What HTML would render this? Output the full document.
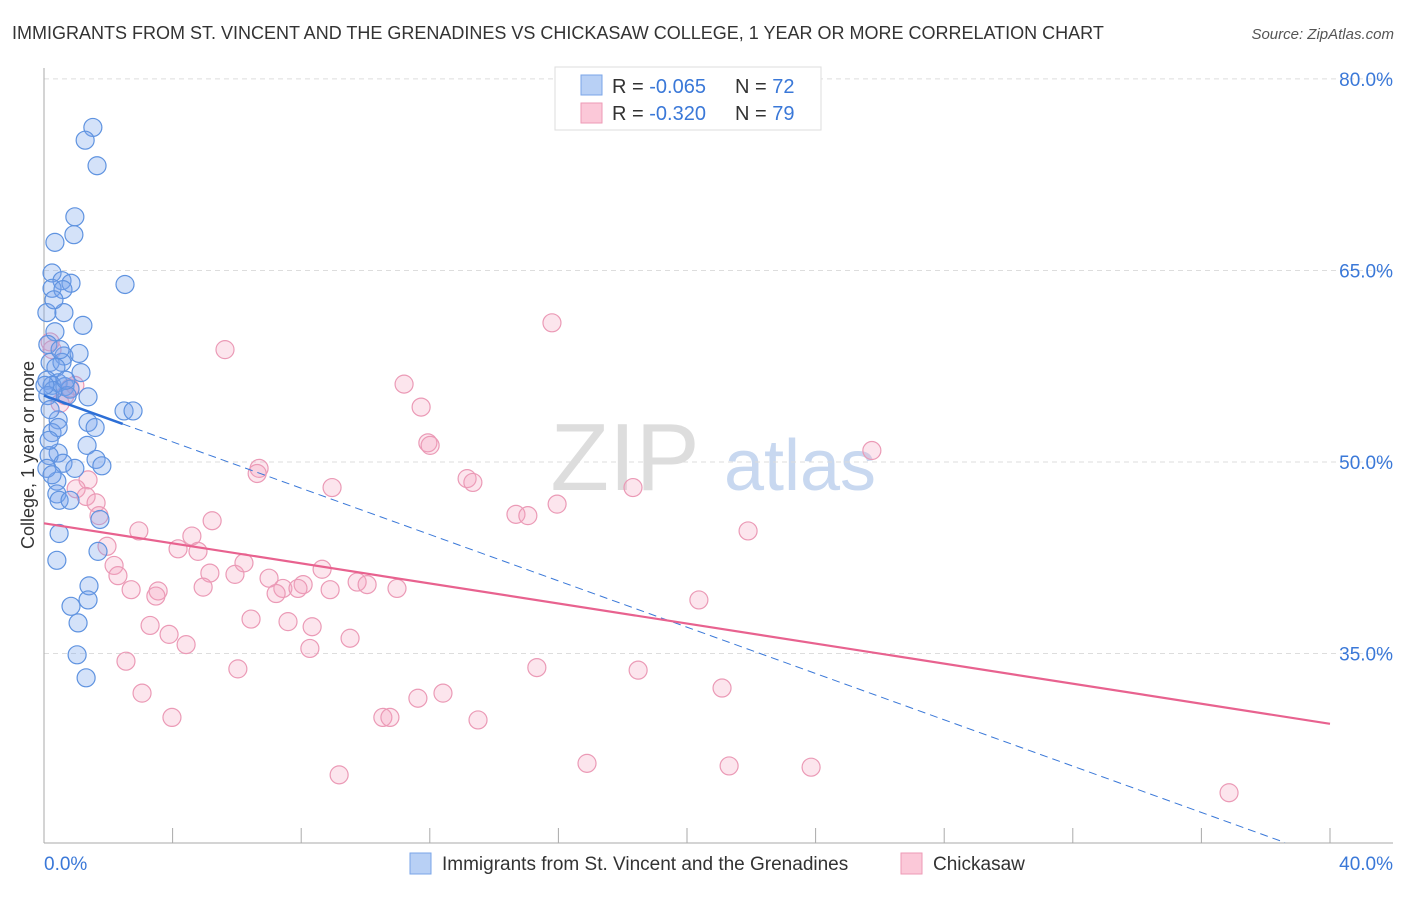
<!DOCTYPE html>
<html><head><meta charset="utf-8">
<style>
body{margin:0;background:#fff;font-family:"Liberation Sans",sans-serif;}
svg text{font-family:"Liberation Sans",sans-serif;}
</style></head>
<body>
<svg id="chart" width="1406" height="892" viewBox="0 0 1406 892" xmlns="http://www.w3.org/2000/svg">
<text x="12" y="39" font-size="18" fill="#333">IMMIGRANTS FROM ST. VINCENT AND THE GRENADINES VS CHICKASAW COLLEGE, 1 YEAR OR MORE CORRELATION CHART</text>
<text x="1394" y="39" font-size="15" fill="#555" font-style="italic" text-anchor="end">Source: ZipAtlas.com</text>
<g>
<text x="625" y="490" font-size="96" fill="#ddd" text-anchor="middle" font-family="Liberation Serif">ZIP</text>
<text x="800" y="490" font-size="72" fill="#c8d8f0" text-anchor="middle">atlas</text>
</g>
<g id="grid"></g>
<g id="axes"></g>
<g id="pinkPts"></g>
<g id="bluePts"></g>
<g id="trends"></g>
<text x="34" y="455" font-size="18" fill="#333" text-anchor="middle" transform="rotate(-90 34 455)">College, 1 year or more</text>
<g>
<rect x="555" y="67" width="266" height="63" fill="#fff" stroke="#ddd"/>
<rect x="581" y="75" width="21" height="20" fill="#b8d0f5" stroke="#7aa5e8"/>
<rect x="581" y="103" width="21" height="20" fill="#fbc8d8" stroke="#ee9ab6"/>
<text x="612" y="93" font-size="20" fill="#333">R = <tspan fill="#3a78d8">-0.065</tspan><tspan x="735">N = </tspan><tspan fill="#3a78d8">72</tspan></text>
<text x="612" y="120" font-size="20" fill="#333">R = <tspan fill="#3a78d8">-0.320</tspan><tspan x="735">N = </tspan><tspan fill="#3a78d8">79</tspan></text>
</g>
<g>
<rect x="410" y="853" width="21" height="21" fill="#b8d0f5" stroke="#7aa5e8"/>
<text x="442" y="870" font-size="19" fill="#333">Immigrants from St. Vincent and the Grenadines</text>
<rect x="901" y="853" width="21" height="21" fill="#fbc8d8" stroke="#ee9ab6"/>
<text x="933" y="870" font-size="19" fill="#333">Chickasaw</text>
</g>
</svg>
<script>
const yTicks=[35,50,65,80];
const yTickLabels=["35.0%","50.0%","65.0%","80.0%"];
const xTicks=[0,4,8,12,16,20,24,28,32,36,40];
const blueX=[1.52,1.28,1.65,0.96,0.93,0.34,0.25,0.56,0.84,2.52,0.25,0.59,0.09,0.62,1.21,0.34,0.12,0.62,1.09,0.19,0.56,0.37,1.15,0.09,0.44,0.25,0.65,0.81,1.37,0.72,0.28,2.49,2.77,0.44,1.37,1.59,0.25,0.44,1.34,0.44,0.16,0.59,0.96,1.62,1.80,0.40,0.40,0.47,1.74,0.47,0.40,1.68,1.40,1.37,0.84,1.06,1.03,1.31,0.16,0.09,0.25,0.12,0.5,0.31,0.19,0.81,0.68,0.03];
const blueY=[76.2,75.2,73.2,69.2,67.8,67.2,64.8,64.2,64.0,63.9,63.6,63.5,61.7,61.7,60.7,60.2,59.2,58.3,58.5,57.8,57.8,57.4,57.0,56.4,56.2,56.0,55.9,55.7,55.1,55.2,55.6,54.0,54.0,53.3,53.1,52.7,52.3,52.7,51.3,50.7,50.5,49.9,49.5,50.2,49.7,48.5,47.5,47.0,45.5,44.4,42.3,43.0,40.3,39.2,38.7,37.4,34.9,33.1,51.7,49.5,49.0,55.2,58.8,62.7,54.1,47.0,56.4,56.0];
const pinkX=[15.80,5.63,11.20,11.73,11.94,12.01,25.75,6.69,6.63,13.16,13.34,8.96,18.32,1.37,1.00,1.31,1.62,1.71,15.96,14.68,15.05,5.23,2.95,21.90,4.60,1.96,4.17,4.79,2.18,5.16,2.30,5.94,6.22,8.65,7.00,9.74,10.05,8.06,7.43,7.90,7.22,2.71,3.55,3.48,4.95,10.98,8.90,20.37,6.44,7.59,3.30,8.34,3.89,9.52,4.42,8.27,2.55,6.03,15.33,18.48,3.05,12.41,11.63,21.09,3.98,10.54,10.76,13.50,16.89,21.31,23.86,9.18,36.86,0.19,0.50,0.81,0.25,0.65,0.96];
const pinkY=[60.9,58.8,56.1,54.3,51.5,51.3,50.9,49.5,49.1,48.7,48.4,48.0,48.0,48.6,47.9,47.3,46.8,45.8,46.7,45.9,45.8,45.4,44.6,44.6,44.2,43.4,43.2,43.0,41.9,41.3,41.1,41.2,42.1,41.6,40.9,40.6,40.4,40.4,40.1,40.1,39.7,40.0,39.9,39.5,40.2,40.1,40.0,39.2,37.7,37.5,37.2,37.1,36.5,36.2,35.7,35.4,34.4,33.8,33.9,33.7,31.9,31.9,31.5,32.3,30.0,30.0,30.0,29.8,26.4,26.2,26.1,25.5,24.1,59.4,54.6,55.8,58.8,55.2,56.0];
const blueTrend=[55.2,20.2]; // y at x=0 and x=38.6
const blueTrendX=[0,2.45,38.6];
const pinkTrend=[45.2,29.5]; // y at x=0 and x=40
const NS="http://www.w3.org/2000/svg";
const X0=44,X1=1330,Y50=462,PXPER=12.77;
function sx(v){return X0+(X1-X0)*v/40;}
function sy(v){return Y50-(v-50)*PXPER;}
function mk(tag,attrs,parent){const e=document.createElementNS(NS,tag);for(const k in attrs)e.setAttribute(k,attrs[k]);parent.appendChild(e);return e;}
const grid=document.getElementById('grid'),axes=document.getElementById('axes');
yTicks.forEach((t,i)=>{
  const l=mk('line',{x1:X0,x2:1393,y1:sy(t),y2:sy(t),stroke:'#ddd','stroke-dasharray':'5,4'},grid);
  
  
  const tx=mk('text',{x:1393,y:sy(t)+7,'font-size':19,fill:'#3a78d8','text-anchor':'end'},axes);
  tx.textContent=yTickLabels[i];
  
  
});
const ax=mk('line',{x1:X0,x2:X0,y1:68,y2:843,stroke:'#aaa'},axes);


const bx=mk('line',{x1:X0,x2:1393,y1:843,y2:843,stroke:'#aaa'},axes);


xTicks.forEach(t=>{
  const l=mk('line',{x1:sx(t),x2:sx(t),y1:828,y2:843,stroke:'#aaa'},axes);
  
  
});
const xl0=mk('text',{x:44,y:870,'font-size':19,fill:'#3a78d8'},axes);xl0.textContent='0.0%';


const xl1=mk('text',{x:1393,y:870,'font-size':19,fill:'#3a78d8','text-anchor':'end'},axes);xl1.textContent='40.0%';


const pg=document.getElementById('pinkPts');
pinkX.forEach((v,i)=>{
  const c=mk('circle',{cx:sx(v),cy:sy(pinkY[i]),r:9,fill:'rgba(245,160,190,0.28)',stroke:'#eb9ab6','stroke-width':1.2},pg);
  
  
});
const bg=document.getElementById('bluePts');
blueX.forEach((v,i)=>{
  const c=mk('circle',{cx:sx(v),cy:sy(blueY[i]),r:9,fill:'rgba(120,165,235,0.32)',stroke:'#5f93e0','stroke-width':1.2},bg);
  
  
});
const tg=document.getElementById('trends');
function by(x){return blueTrend[0]+(blueTrend[1]-blueTrend[0])*x/blueTrendX[2];}
const bd=mk('line',{x1:sx(blueTrendX[1]),y1:sy(by(blueTrendX[1])),x2:sx(blueTrendX[2]),y2:sy(by(blueTrendX[2])),stroke:'#3a78d8','stroke-width':1,'stroke-dasharray':'8,5'},tg);


const bs=mk('line',{x1:sx(0),y1:sy(by(0)),x2:sx(blueTrendX[1]),y2:sy(by(blueTrendX[1])),stroke:'#2d6fd6','stroke-width':2.5},tg);


const pl=mk('line',{x1:sx(0),y1:sy(pinkTrend[0]),x2:sx(40),y2:sy(pinkTrend[1]),stroke:'#e8628f','stroke-width':2.2},tg);


</script>
</body></html>
